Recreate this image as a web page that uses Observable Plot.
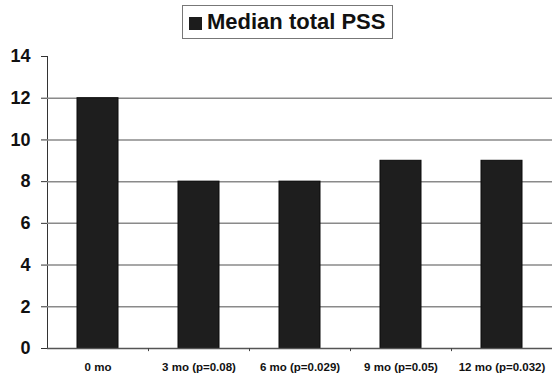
<!DOCTYPE html>
<html>
<head>
<meta charset="utf-8">
<script src="https://cdn.jsdelivr.net/npm/d3@7"></script>
<script src="https://cdn.jsdelivr.net/npm/@observablehq/plot@0.6"></script>
<style>
  html, body { margin: 0; padding: 0; background: #fff; }
  body { width: 552px; height: 374px; position: relative; overflow: hidden; font-family: "Liberation Sans", Arial, sans-serif; }
  #legend { height: 44px; position: relative; }
  #legend .box { position: absolute; left: 182px; top: 5px; width: 209px; height: 32px; border: 1px solid #777; box-sizing: content-box; }
  #legend .sw { position: absolute; left: 6px; top: 11px; width: 13px; height: 13px; background: #1c1c1c; }
  #legend .lbl { position: absolute; left: 24px; top: 3px; font-weight: bold; font-size: 22px; line-height: 26px; color: #111; white-space: nowrap; }
  #chart svg { display: block; }
  #chart [aria-label^="y-axis"] text { font-size: 18px; font-weight: bold; fill: #111; }
  #chart [aria-label^="x-axis"] text { font-size: 11.5px; font-weight: bold; fill: #111; }
</style>
</head>
<body>
<div id="legend"><div class="box"><div class="sw"></div><div class="lbl" id="lbl"></div></div></div>
<div id="chart"></div>
<script>
const seriesName = "Median total PSS";
const categories = ["0 mo", "3 mo (p=0.08)", "6 mo (p=0.029)", "9 mo (p=0.05)", "12 mo (p=0.032)"];
const values = [12, 8, 8, 9, 9];
const yTicks = [0, 2, 4, 6, 8, 10, 12, 14];

document.getElementById("lbl").textContent = seriesName;

const data = categories.map((c, i) => ({cat: c, val: values[i]}));
const gridValues = yTicks.filter(v => v > 0 && v < 14);
const left = 47, right = 552;
const step = (right - left) / categories.length;

const chart = Plot.plot({
  width: 552,
  height: 330,
  marginLeft: 47,
  marginRight: 0,
  marginTop: 12,
  marginBottom: 26,
  style: {fontFamily: "Liberation Sans, Arial, sans-serif", color: "#333", background: "#fff"},
  x: {domain: categories, paddingInner: 0.59, paddingOuter: 0.295, align: 0.5, label: null, tickSize: 0, tickPadding: 14},
  y: {domain: [0, 14], ticks: yTicks, tickSize: 6, tickPadding: 11, label: null, line: true, tickFormat: d => String(d)},
  marks: [
    Plot.ruleY(gridValues, {stroke: "#8a8a8a", strokeWidth: 1.5}),
    Plot.barY(data, {x: "cat", y: "val", fill: "#1e1e1e", stroke: "#0a0a0a", strokeWidth: 1}),
    Plot.ruleY([0], {stroke: "#555", strokeWidth: 1.5}),
    Plot.ruleX(categories.slice(1), {x: d => d, dx: -step / 2, y1: 0, y2: -0.15, stroke: "#444", strokeWidth: 1})
  ]
});
document.getElementById("chart").appendChild(chart);
</script>
</body>
</html>
